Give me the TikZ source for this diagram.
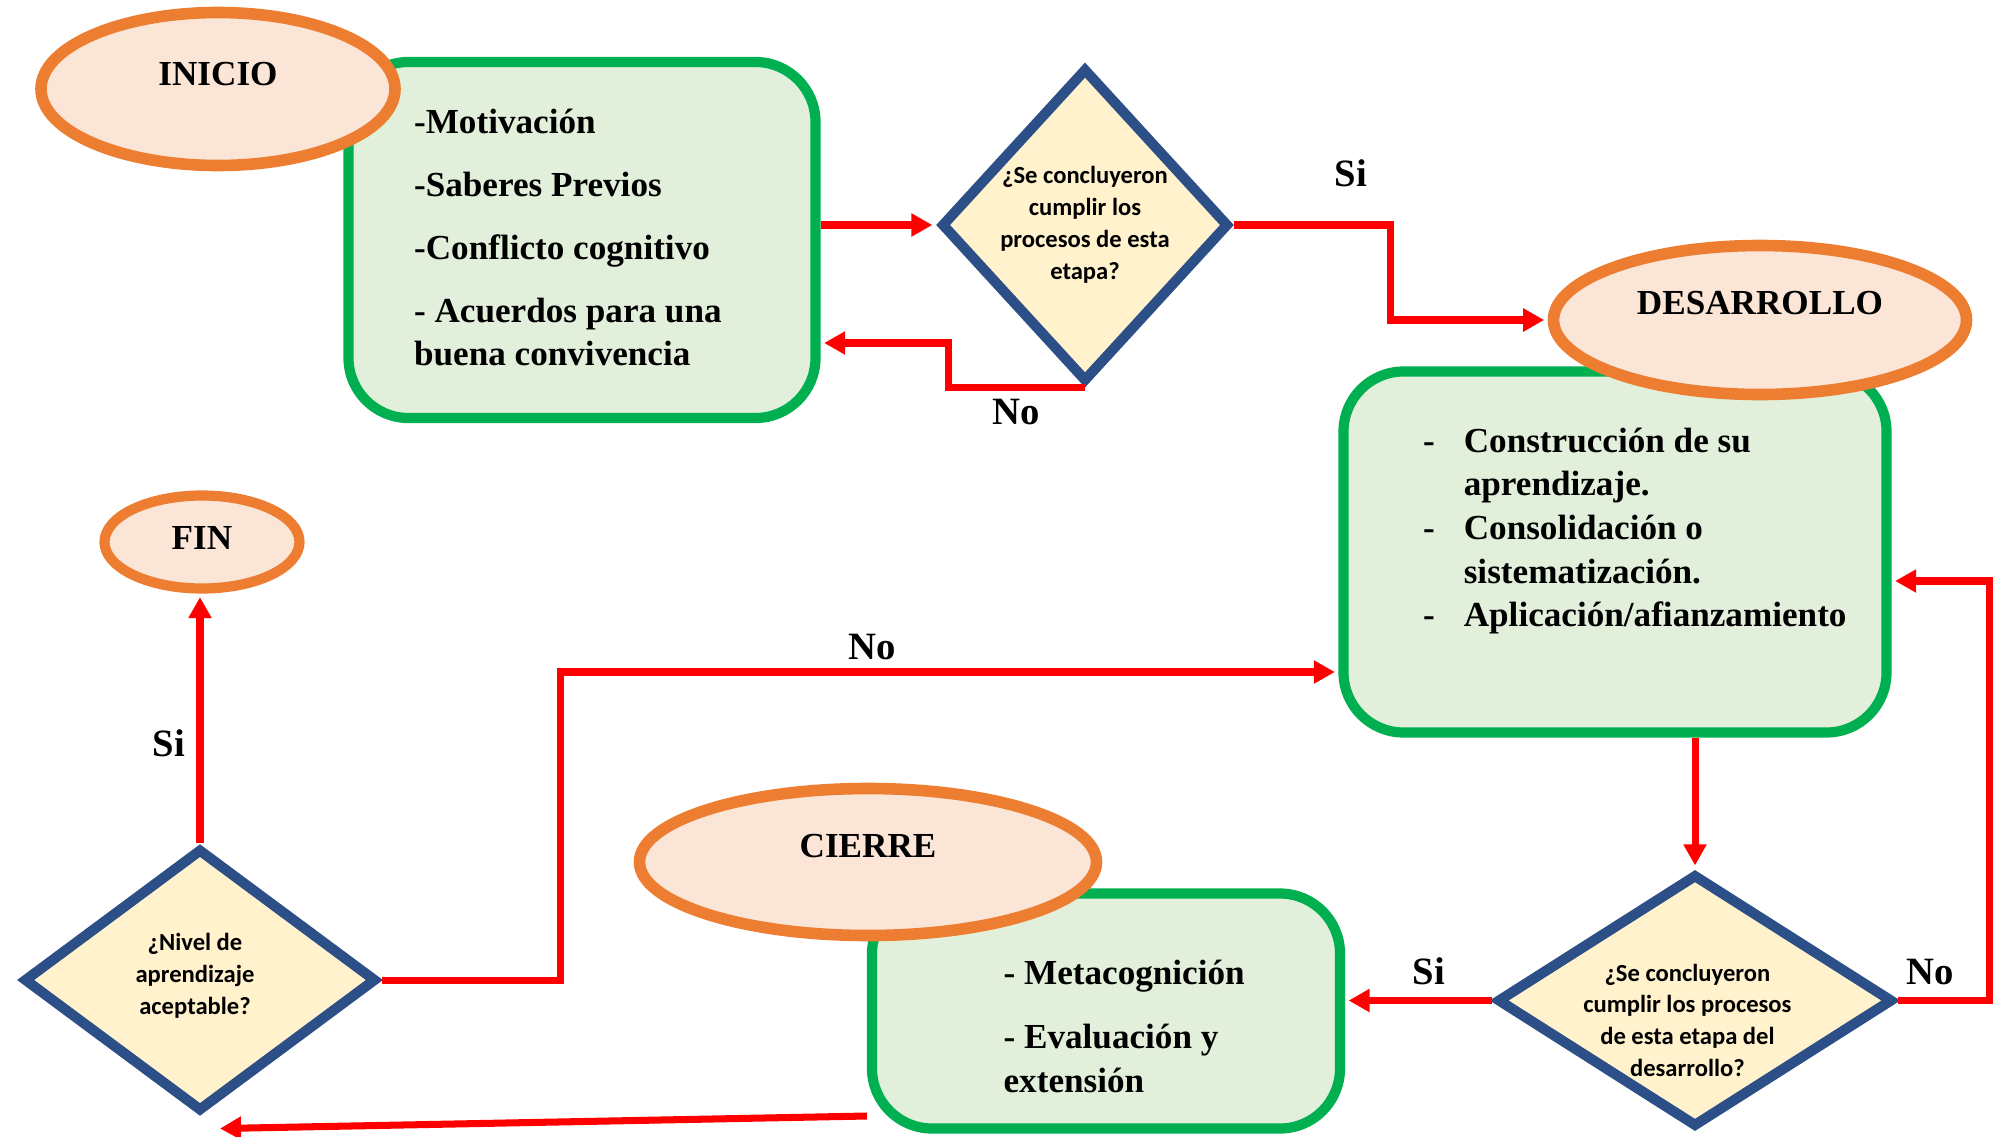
\documentclass[tikz,border=0pt]{standalone}
\usepackage{fontspec}
\setmainfont{Liberation Serif}
\newfontfamily\calib{Carlito}
\usetikzlibrary{shapes.geometric,arrows.meta}
\definecolor{termline}{HTML}{ED7D31}
\definecolor{termfill}{HTML}{FBE5D6}
\definecolor{stageline}{HTML}{00B050}
\definecolor{stagefill}{HTML}{E2EFDA}
\definecolor{askline}{HTML}{2B4F86}
\definecolor{askfill}{HTML}{FFF2CC}

\begin{document}
\begin{tikzpicture}[>={Triangle[length=2.1mm,width=2.2mm]},
    term/.style={ellipse,draw=termline,fill=termfill,line width=3.3pt,inner sep=0pt},
    stage/.style={rounded corners=0.6cm,draw=stageline,fill=stagefill,line width=2.9pt,inner sep=0pt},
    ask/.style={diamond,draw=askline,fill=askfill,line width=2.9pt,inner sep=0pt},
    flow/.style={->,red,line width=2pt,shorten >=1pt},
    bfont/.style={font=\bfseries\fontsize{10}{12.4}\selectfont},
    qfont/.style={font=\calib\bfseries\fontsize{7}{9.05}\selectfont,align=center},
    yn/.style={text=black,font=\bfseries\fontsize{11}{13}\selectfont},
    every label/.style={inner sep=0pt}]
    \useasboundingbox (0,0) rectangle (19.95,11.36);
    \node[stage,minimum width=4.67cm,minimum height=3.56cm,label={[bfont,align=left,anchor=west,xshift=7mm,yshift=0.25mm]west:{-Motivación\\[5.5pt]-Saberes Previos\\[5.5pt]-Conflicto cognitivo\\[5.5pt]- Acuerdos para una\\buena convivencia}}] (b1) at (5.82,8.96) {};
    \node[stage,minimum width=5.43cm,minimum height=3.61cm,label={[bfont,align=left,anchor=west,xshift=8.4mm,yshift=2.1mm]west:{\makebox[4.07mm][l]{-}Construcción de su\\\makebox[4.07mm]{}aprendizaje.\\\makebox[4.07mm][l]{-}Consolidación o\\\makebox[4.07mm]{}sistematización.\\\makebox[4.07mm][l]{-}Aplicación/afianzamiento}}] (b2) at (16.15,5.84) {};
    \node[stage,minimum width=4.68cm,minimum height=2.35cm,label={[bfont,align=left,anchor=west,xshift=13.6mm,yshift=-1.55mm]west:{- Metacognición\\[5.7pt]- Evaluación y\\extensión}}] (b3) at (11.06,1.25) {};
    \node[term,minimum width=3.54cm,minimum height=1.53cm,label={[bfont,yshift=1.53mm]center:INICIO}] (ini) at (2.18,10.47) {};
    \node[term,minimum width=4.13cm,minimum height=1.49cm,label={[bfont,yshift=1.72mm]center:DESARROLLO}] (des) at (17.6,8.16) {};
    \node[term,minimum width=4.57cm,minimum height=1.47cm,label={[bfont,yshift=1.59mm]center:CIERRE}] (cie) at (8.68,2.74) {};
    \node[term,minimum width=1.95cm,minimum height=0.93cm,line width=2.9pt,label={[bfont,yshift=0.38mm]center:FIN}] (fin) at (2.02,5.94) {};
    \node[ask,minimum width=2.88cm,minimum height=3.14cm,label={[qfont]center:{¿Se concluyeron\\cumplir los\\procesos de esta\\etapa?}}] (q1) at (10.85,9.11) {};
    \node[ask,minimum width=3.96cm,minimum height=2.53cm,label={[qfont,xshift=-0.76mm,yshift=-1.97mm]center:{¿Se concluyeron\\cumplir los procesos\\de esta etapa del\\desarrollo?}}] (q2) at (16.95,1.355) {};
    \node[ask,minimum width=3.53cm,minimum height=2.63cm,label={[qfont,xshift=-0.5mm,yshift=0.45mm]center:{¿Nivel de\\aprendizaje\\aceptable?}}] (q3) at (2.0,1.56) {};
    \draw[flow] (b1.east |- q1.west) -- (q1.west);
    \draw[flow] (q1.south) -- node[yn,below=-1pt]{No} ++(-1.37,0) |- ([yshift=-1.03cm]b1.east);
    \draw[flow] (q1.east) -- node[yn,pos=0.75,above=6.4pt]{Si} ++(1.56,0) |- (des.west);
    \draw[flow] (b2.south -| q2.north) -- (q2.north);
    \draw[flow] (q2.east) -- node[yn,pos=0.35,above=0pt]{No} ++(0.91,0) |- ([yshift=-0.29cm]b2.east);
    \draw[flow] (q2.west) -- node[yn,pos=0.43,above=0pt]{Si} (b3.east |- q2.west);
    \draw[flow] ([yshift=-1.05cm]b3.west) -- ([xshift=1.65mm,yshift=-1.2mm]q3.south);
    \draw[flow] (q3.north) -- node[yn,left=0pt,pos=0.4]{Si} (q3.north |- fin.south);
    \draw[flow] (q3.east) -- ++(1.79,0) |- node[yn,pos=0.7,above=-1pt]{No} ([yshift=-1.2cm]b2.west);
\end{tikzpicture}
\end{document}
